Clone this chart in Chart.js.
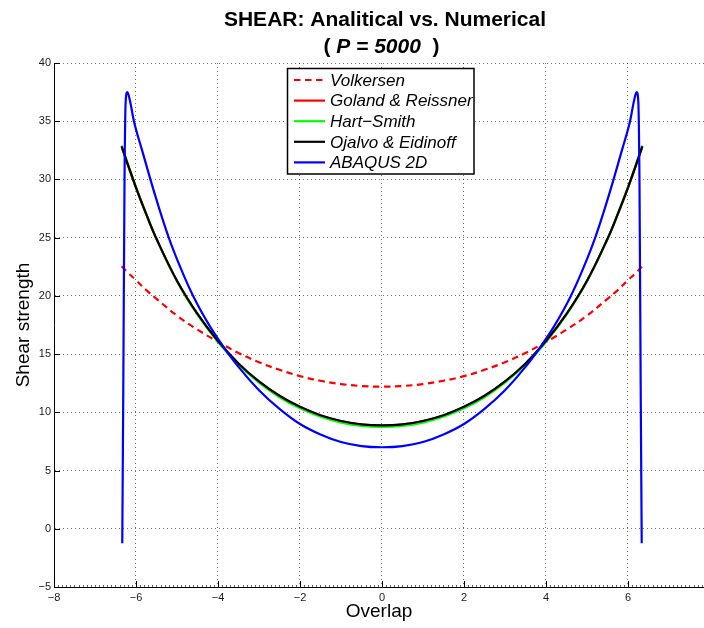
<!DOCTYPE html>
<html>
<head>
<meta charset="utf-8">
<title>SHEAR: Analitical vs. Numerical</title>
<script src="https://cdn.jsdelivr.net/npm/chart.js@4.4.0/dist/chart.umd.min.js"></script>
<style>
  html, body { margin: 0; padding: 0; background: #fff; }
  canvas { display: block; }
</style>
</head>
<body>
<canvas id="myChart" width="704" height="628"></canvas>
<script>
const xTicks = [-8, -6, -4, -2, 0, 2, 4, 6];
const yTicks = [-5, 0, 5, 10, 15, 20, 25, 30, 35, 40];

// soluzioni analitiche (stessa griglia di overlap)
const overlapAnalitico = [-6.35, -6.2, -6, -5.75, -5.5, -5, -4.5, -4, -3.5, -3, -2.5, -2, -1.5, -1, -0.5, 0,
  0.5, 1, 1.5, 2, 2.5, 3, 3.5, 4, 4.5, 5, 5.5, 5.75, 6, 6.2, 6.35];
const volkersen = [22.55, 22.0, 21.35, 20.5, 19.75, 18.3, 17.1, 16.05, 15.1, 14.3, 13.65, 13.11, 12.71, 12.43, 12.26, 12.2,
  12.26, 12.43, 12.71, 13.11, 13.65, 14.3, 15.1, 16.05, 17.1, 18.3, 19.75, 20.5, 21.35, 22.0, 22.55];
const golandReissner = [32.8, 31.25, 29.28, 27.0, 24.88, 21.28, 18.43, 16.1, 14.18, 12.63, 11.4, 10.45, 9.73, 9.24, 8.95, 8.86,
  8.95, 9.24, 9.73, 10.45, 11.4, 12.63, 14.18, 16.1, 18.43, 21.28, 24.88, 27.0, 29.28, 31.25, 32.8];
const hartSmith = [32.9, 31.35, 29.35, 27.05, 24.9, 21.25, 18.38, 16.04, 14.1, 12.54, 11.3, 10.34, 9.62, 9.12, 8.83, 8.74,
  8.83, 9.12, 9.62, 10.34, 11.3, 12.54, 14.1, 16.04, 18.38, 21.25, 24.9, 27.05, 29.35, 31.35, 32.9];
const ojalvoEidinoff = [32.85, 31.3, 29.3, 27.02, 24.9, 21.3, 18.45, 16.12, 14.2, 12.65, 11.42, 10.47, 9.75, 9.26, 8.97, 8.88,
  8.97, 9.26, 9.75, 10.47, 11.42, 12.65, 14.2, 16.12, 18.45, 21.3, 24.9, 27.02, 29.3, 31.3, 32.85];

// modello numerico
const overlapAbaqus = [-6.335, -6.31, -6.28, -6.25, -6.21, -6.15, -6.05, -5.86, -5.64, -5.42, -5.19, -4.9, -4.6, -4.2, -3.9, -3.5,
  -3, -2.5, -2, -1.5, -1, -0.5, 0, 0.5, 1, 1.5, 2, 2.5, 3, 3.5, 3.9, 4.2, 4.6, 4.9, 5.19, 5.42, 5.64, 5.86, 6.05, 6.15,
  6.21, 6.25, 6.28, 6.31, 6.335];
const abaqus2d = [-1.25, 12, 30, 36.8, 37.5, 36.8, 35, 32.6, 29.9, 27.35, 24.9, 22.3, 19.95, 17.4, 15.8, 13.9,
  11.9, 10.3, 9.0, 8.1, 7.45, 7.1, 7.0, 7.1, 7.45, 8.1, 9.0, 10.3, 11.9, 13.9, 15.8, 17.4, 19.95, 22.3, 24.9, 27.35, 29.9, 32.6, 35, 36.8,
  37.5, 36.8, 30, 12, -1.25];

const FONT = "'Liberation Sans', Arial, Helvetica, sans-serif";

function punti(xs, ys) {
    return xs.map((x, i) => ({ x: x, y: ys[i] }));
}

function meno(v) {
    return String(v).replace('-', '\u2212');
}

const titolo = {
    id: 'titolo',
    afterDraw(chart) {
        const ctx = chart.ctx;
        ctx.save();
        ctx.fillStyle = '#000';
        ctx.textBaseline = 'middle';
        ctx.textAlign = 'center';
        ctx.font = 'bold 21px ' + FONT;
        ctx.fillText('SHEAR: Analitical vs. Numerical', 385, 20);

        // seconda riga: ( P = 5000 ) con P = 5000 in corsivo
        const parti = [['( ', 'bold 21px '], ['P = 5000', 'italic bold 21px '], ['  )', 'bold 21px ']];
        let larg = 0;
        parti.forEach(p => { ctx.font = p[1] + FONT; larg += ctx.measureText(p[0]).width; });
        let x = 381.5 - larg / 2;
        ctx.textAlign = 'left';
        parti.forEach(p => {
            ctx.font = p[1] + FONT;
            ctx.fillText(p[0], x, 47);
            x += ctx.measureText(p[0]).width;
        });
        ctx.restore();
    }
};

const legenda = {
    id: 'legenda',
    afterDraw(chart) {
        const ctx = chart.ctx;
        const ds = chart.data.datasets;
        ctx.save();
        ctx.fillStyle = '#fff';
        ctx.fillRect(287, 68, 187, 106);
        ctx.strokeStyle = '#000';
        ctx.lineWidth = 1.5;
        ctx.strokeRect(287.5, 68.5, 186.5, 105.5);
        ctx.font = 'italic 17px ' + FONT;
        ctx.textBaseline = 'middle';
        ctx.textAlign = 'left';
        for (let i = 0; i < ds.length; i++) {
            const y = 80 + i * 20.6;
            ctx.strokeStyle = ds[i].borderColor;
            ctx.lineWidth = 2.2;
            ctx.setLineDash(ds[i].borderDash || []);
            ctx.beginPath();
            ctx.moveTo(294, y);
            ctx.lineTo(325, y);
            ctx.stroke();
            ctx.setLineDash([]);
            ctx.fillStyle = '#000';
            ctx.fillText(ds[i].label, 330, y + 1);
        }
        ctx.restore();
    }
};

const tacche = {
    id: 'tacche',
    afterDraw(chart) {
        const ctx = chart.ctx;
        const a = chart.chartArea;
        const sx = chart.scales.x;
        const sy = chart.scales.y;
        ctx.save();
        ctx.lineWidth = 1;
        // tacche secondarie sull'asse x
        ctx.strokeStyle = '#666';
        ctx.beginPath();
        for (let v = -8; v <= 7.85; v += 0.1) {
            const px = Math.round(sx.getPixelForValue(v)) + 0.5;
            ctx.moveTo(px, a.bottom);
            ctx.lineTo(px, a.bottom - 2);
        }
        ctx.stroke();
        ctx.strokeStyle = '#000';
        ctx.beginPath();
        xTicks.forEach(v => {
            const px = Math.round(sx.getPixelForValue(v)) + 0.5;
            ctx.moveTo(px, a.bottom);
            ctx.lineTo(px, a.bottom - 6);
        });
        yTicks.forEach(v => {
            const py = Math.round(sy.getPixelForValue(v)) + 0.5;
            ctx.moveTo(a.left, py);
            ctx.lineTo(a.left + 6, py);
        });
        ctx.stroke();
        ctx.restore();
    }
};

const griglia = { color: 'rgba(0,0,0,0.55)', lineWidth: 1, drawTicks: false };
const bordo = { display: true, color: '#000', width: 1, dash: [1, 3] };
const etichette = { color: '#1a1a1a', font: { family: FONT, size: 11 }, callback: v => meno(v) };

var u = document.getElementById('myChart').getContext('2d');
var grafico = new Chart(u, {
    type: 'scatter',
    data: {
        datasets: [{
            label: 'Volkersen',
            data: punti(overlapAnalitico, volkersen),
            borderColor: '#ff0000',
            borderDash: [6.5, 4.5],
            order: 4
        }, {
            label: 'Goland & Reissner',
            data: punti(overlapAnalitico, golandReissner),
            borderColor: '#ff0000',
            order: 3
        }, {
            label: 'Hart\u2212Smith',
            data: punti(overlapAnalitico, hartSmith),
            borderColor: '#00ff00',
            order: 2
        }, {
            label: 'Ojalvo & Eidinoff',
            data: punti(overlapAnalitico, ojalvoEidinoff),
            borderColor: '#000000',
            order: 1
        }, {
            label: 'ABAQUS 2D',
            data: punti(overlapAbaqus, abaqus2d),
            borderColor: '#0000ff',
            cubicInterpolationMode: 'monotone',
            order: 0
        }].map(d => Object.assign({
            showLine: true,
            pointRadius: 0,
            borderWidth: 2.2,
            tension: 0.4,
            fill: false
        }, d))
    },
    options: {
        responsive: false,
        animation: false,
        devicePixelRatio: 1,
        layout: { padding: { top: 63, left: 0, right: 0, bottom: 0 } },
        plugins: { legend: { display: false }, tooltip: { enabled: false } },
        scales: {
            x: {
                type: 'linear',
                min: -8,
                max: 7.854,
                afterBuildTicks: s => { s.ticks = xTicks.map(v => ({ value: v })); },
                afterFit: s => { s.height = 41; },
                ticks: Object.assign({ padding: 4, maxRotation: 0 }, etichette),
                grid: griglia,
                border: bordo,
                title: { display: true, text: 'Overlap', color: '#000', font: { family: FONT, size: 19 }, padding: { top: 0, bottom: 5 } }
            },
            y: {
                type: 'linear',
                min: -5,
                max: 40,
                afterBuildTicks: s => { s.ticks = yTicks.map(v => ({ value: v })); },
                afterFit: s => { s.width = 54; },
                ticks: Object.assign({ padding: 3 }, etichette),
                grid: griglia,
                border: bordo,
                title: { display: true, text: 'Shear strength', color: '#000', font: { family: FONT, size: 19 }, padding: { top: 12, bottom: 0 } }
            }
        }
    },
    plugins: [titolo, legenda, tacche]
});
</script>
</body>
</html>
